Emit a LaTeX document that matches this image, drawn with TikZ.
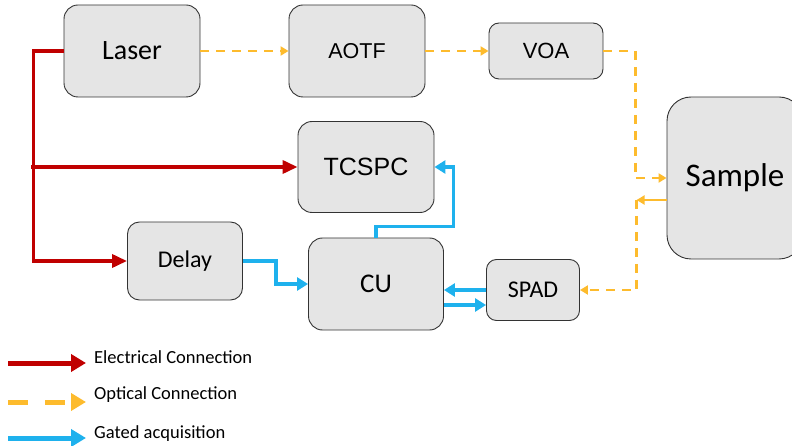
\documentclass[tikz,border=0pt]{standalone}
\usepackage{fontspec}
\setmainfont{Carlito}
\newfontfamily\arialfont{Liberation Sans}
\usetikzlibrary{arrows.meta}
\definecolor{elecred}{HTML}{C00000}
\definecolor{optyellow}{HTML}{FDBB2D}
\definecolor{gateblue}{HTML}{1EB1ED}

\begin{document}
\begin{tikzpicture}
            [x=1pt, y=-1pt,
             box/.style={draw=black!80, fill=black!10, line width=0.9pt, rounded corners=14pt, inner sep=0pt},
             elec/.style={draw=elecred, line width=3.5pt, -{Triangle[length=15pt,width=13pt]}},
             optic/.style={draw=optyellow, line width=2.6pt, dash pattern=on 9pt off 7pt, -{Triangle[length=8pt,width=9pt]}},
             gated/.style={draw=gateblue, line width=3.5pt, -{Triangle[length=11pt,width=13pt]}},
             legend/.style={anchor=west, inner sep=0pt, font=\fontsize{18.5}{21}\selectfont}]
            \useasboundingbox (0,0) rectangle (792,446);

            \node[box, minimum width=136pt, minimum height=92pt, font=\fontsize{28}{30}\selectfont] (laser) at (132, 51) {Laser};
            \node[box, minimum width=136pt, minimum height=92pt, font=\arialfont\fontsize{21.5}{23}\selectfont] (aotf) at (357, 51) {AOTF};
            \node[box, minimum width=114pt, minimum height=56pt, rounded corners=10pt, font=\arialfont\fontsize{22}{24}\selectfont] (voa) at (546, 51) {VOA};
            \node[box, minimum width=136pt, minimum height=91pt, font=\arialfont\fontsize{25}{27}\selectfont] (tcspc) at (366, 167) {TCSPC};
            \node[box, minimum width=115pt, minimum height=78pt, rounded corners=12pt, font=\fontsize{24}{26}\selectfont] (delay) at (185, 261) {Delay};
            \node[box, minimum width=135pt, minimum height=92pt, font=\fontsize{27}{29}\selectfont] (cu) at (376, 284) {CU};
            \node[box, minimum width=93pt, minimum height=61pt, rounded corners=10pt, font=\fontsize{24}{26}\selectfont] (spad) at (533, 290) {SPAD};
            \node[box, minimum width=136pt, minimum height=162pt, rounded corners=24pt, font=\fontsize{33}{35}\selectfont] (sample) at (735, 178) {Sample};

            % electrical
            \draw[elec] (laser.west) -- ++(-30,0) |- (delay.west);
            \coordinate (branch) at (31, 167);
            \draw[elec] (branch) -- (tcspc.west);

            % optical
            \draw[optic] (laser.east) -- (aotf.west);
            \draw[optic] (aotf.east) -- (voa.west);
            \draw[optic] (voa.east) -- ++(32,0) |- (sample.west);
            \draw[optic, dash pattern=] ([yshift=-22pt]sample.west) -- ++(-30,0) coordinate (turn);
            \draw[optic] (turn) |- (spad.east);

            % gated
            \draw[gated] (delay.east) -- ++(33,0) |- (cu.west);
            \draw[gated] (cu.north) -- ++(0,-11) -| ([xshift=19pt]tcspc.east) -- (tcspc.east);
            \draw[gated] (spad.west) -- (spad.west -| cu.east);
            \draw[gated] ([yshift=-15pt]spad.west -| cu.east) -- ([yshift=-15pt]spad.west);

            % legend
            \node[legend] (lelec) at (94, 357) {Electrical Connection};
            \node[legend] (lopt) at (94, 395) {Optical Connection};
            \node[legend] (lgate) at (94, 434) {Gated acquisition};
            \coordinate (e0) at (8, 363);
            \coordinate (o0) at (8, 402);
            \coordinate (g0) at (8, 438);
            \draw[elec, line width=5pt, -{Triangle[length=15pt,width=17pt]}] (e0) -- ++(78,0);
            \draw[optic, line width=5pt, dash pattern=on 20pt off 17pt, -{Triangle[length=15pt,width=17pt]}] (o0) -- ++(78,0);
            \draw[gated, line width=5pt, -{Triangle[length=15pt,width=17pt]}] (g0) -- ++(78,0);
\end{tikzpicture}
\end{document}
